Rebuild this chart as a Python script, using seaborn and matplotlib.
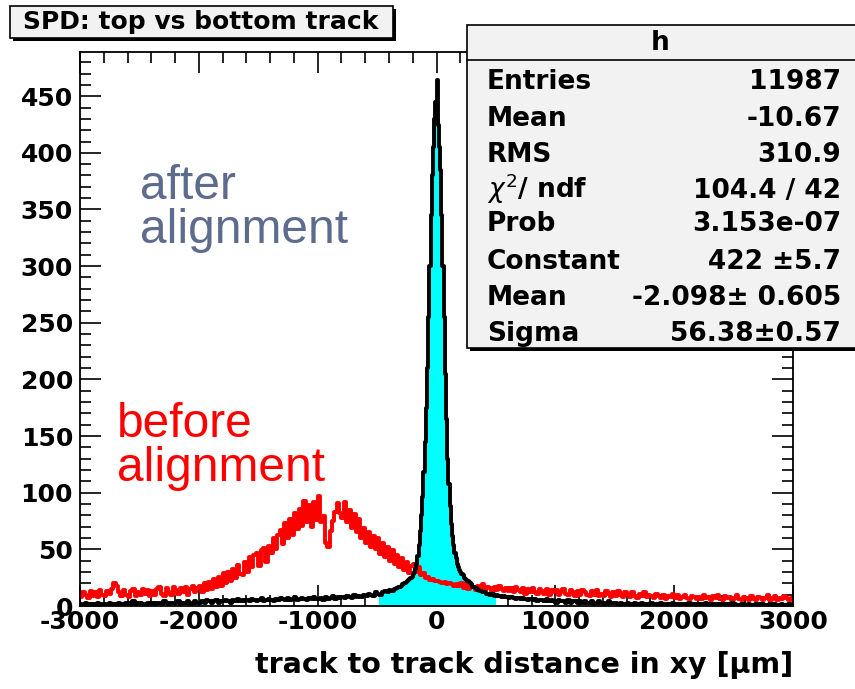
import numpy as np
import pandas as pd
import matplotlib
matplotlib.use("Agg")
import matplotlib.pyplot as plt
import seaborn as sns
from matplotlib.patches import Rectangle
from matplotlib.ticker import MultipleLocator

# ---------------- data ----------------
# "before alignment": 300 bins of 20 um from -3000 to 3000
red_counts = [
    8, 12, 10, 7, 13, 9, 12, 8, 14, 10, 9, 13, 11, 15, 20, 18, 12, 9, 14, 10,
    8, 13, 15, 9, 12, 10, 15, 11, 14, 9, 13, 10, 15, 17, 11, 9, 16, 12, 10, 17,
    14, 11, 16, 12, 17, 10, 15, 18, 12, 16,
    18, 12, 20, 14, 21, 15, 24, 17, 26, 18, 29, 20, 30, 22, 33, 25, 36, 28, 27, 39,
    30, 43, 34, 45, 47, 35, 49, 51, 39, 53,
    47, 60, 50, 63, 67, 55, 73, 60, 77, 63, 82, 68, 86, 71, 93, 74, 89, 70, 92, 76,
    97, 74, 79, 56, 52, 66, 75, 83, 91, 82, 78, 92, 74, 85, 69, 81, 65, 77, 60, 69,
    56, 65, 52, 62, 50, 60, 46, 56, 43, 52, 40, 49, 37, 45, 34, 42, 32, 39, 29, 35,
    37, 30, 34, 27, 29, 25, 26, 23, 24, 22, 22, 21, 20, 21, 19, 20, 19, 18, 19, 18,
    20, 16, 19, 15, 18, 17, 14, 18, 15, 19, 14, 17, 16, 13, 17, 14, 18, 15, 13, 16,
    13, 16, 12, 17, 14, 12, 16, 11, 15, 12, 16, 12, 11, 15, 13, 11, 15, 10, 14, 12,
    14, 10, 12, 15, 11, 10, 14, 12, 9, 13, 10, 14, 12, 10, 9, 13, 10, 14, 9, 11,
    9, 13, 11, 8, 12, 9, 13, 10, 8, 12, 10, 8, 12, 9, 7, 11, 9, 12, 8, 10,
    9, 7, 11, 9, 7, 10, 6, 9, 8, 11, 7, 10, 6, 8, 10, 7, 6, 9, 8, 6,
    8, 6, 10, 7, 8, 5, 9, 7, 10, 6, 5, 9, 7, 8, 5, 7, 10, 6, 5, 8,
    7, 5, 9, 6, 5, 8, 7, 5, 7, 10, 5, 7, 9, 5, 7, 6, 9, 7, 5, 7,
]
# "after alignment": 20 um bins from -3000 to -300
black_left = [
    2, 1, 3, 2, 1, 2, 2, 3, 1, 2, 2, 1, 3, 2, 2, 1, 3, 2, 2, 3,
    3, 2, 4, 2, 3, 3, 2, 1, 3, 2, 3, 2, 3, 3, 2, 4, 3, 2, 3, 3,
    3, 4, 2, 3, 3, 4, 2, 3, 4, 3,
    3, 4, 3, 5, 4, 3, 4, 5, 3, 4, 4, 5, 4, 3, 5, 4, 6, 4, 5, 4,
    5, 4, 6, 5, 4, 5, 7, 4, 5, 6, 5, 4, 6, 5, 7,
    6, 5, 7, 5, 6, 8, 5, 6, 7, 6, 5, 7, 6, 8, 6, 6, 7, 5, 8, 6,
    7, 9, 6, 8, 7,
    8, 7, 9, 8, 7, 10, 8, 9, 8, 10, 9, 11, 10, 9, 12, 11, 10, 12, 13, 12,
    14, 13, 15, 16, 17,
]
# 10 um bins from -300 to 300
black_core = [
    18, 19, 19, 20, 21, 22, 23, 24, 25, 26, 28, 30, 33, 37, 44, 54, 66, 80, 96, 118,
    145, 175, 210, 255, 300, 345, 380, 405, 430, 445, 464, 425, 405, 385, 345, 300,
    255, 205, 165, 130, 108, 88, 72, 62, 54, 47, 42, 37, 34, 32, 30, 28, 27, 25, 24,
    23, 22, 21, 20, 19,
]
# 20 um bins from 300 to 3000
black_right = [
    17, 16, 14, 13, 12, 12, 11, 10, 11, 9, 10, 9, 8, 9, 8, 7, 8, 7, 6, 7,
    6, 7, 6, 5, 6,
    5, 6, 4, 5, 5, 4, 6, 4, 5, 4, 3, 5, 4, 4, 3, 5, 3, 4, 4, 3,
    4, 3, 4, 3, 3, 4, 2, 3, 4, 3, 3, 2, 4, 3, 3,
    3, 2, 3, 2, 2, 3, 1, 2, 3, 2, 2, 3, 2, 1, 2, 3, 2, 2, 1, 3,
    2, 2, 1, 2, 3, 2, 1, 2, 2, 1, 2, 3, 1, 2, 2, 1, 2, 1, 3, 2,
    1, 2, 2, 1, 2, 1, 2, 2, 1, 3, 2, 1, 1, 2, 2, 1, 2, 1, 1, 2,
    2, 1, 2, 1, 1, 2, 1, 2, 1, 1, 2, 1, 1, 2, 1,
]

x_ticks = [-3000, -2000, -1000, 0, 1000, 2000, 3000]
y_ticks = [0, 50, 100, 150, 200, 250, 300, 350, 400, 450]

stats_names = ["Entries", "Mean", "RMS", r"$\chi^{2}$/ ndf", "Prob",
               "Constant", "Mean", "Sigma"]
stats_values = ["11987", "-10.67", "310.9", "104.4 / 42", "3.153e-07",
                "422 ±5.7", "-2.098± 0.605", "56.38±0.57"]

# ---------------- binning ----------------
red_edges = np.linspace(-3000, 3000, 301)
red_df = pd.DataFrame({"x": 0.5 * (red_edges[:-1] + red_edges[1:]),
                       "w": np.array(red_counts, dtype=float)})

black_edges = np.concatenate([np.arange(-3000, -299, 20),
                              np.arange(-290, 301, 10),
                              np.arange(320, 3001, 20)]).astype(float)
black_df = pd.DataFrame({"x": 0.5 * (black_edges[:-1] + black_edges[1:]),
                         "w": np.array(black_left + black_core + black_right,
                                       dtype=float)})

sel = ((black_df["x"] > -480) & (black_df["x"] < 500)).to_numpy()
idx = np.where(sel)[0]
cyan_edges = black_edges[idx[0]: idx[-1] + 2]
cyan_df = black_df[sel]

# ---------------- style ----------------
sns.set_style("ticks")
plt.rcParams["font.family"] = ["DejaVu Sans"]
plt.rcParams["axes.unicode_minus"] = False
plt.rcParams["mathtext.fontset"] = "dejavusans"
plt.rcParams["text.color"] = "black"
plt.rcParams["xtick.color"] = "black"
plt.rcParams["ytick.color"] = "black"
plt.rcParams["axes.labelcolor"] = "black"

W, H = 855, 689
fig = plt.figure(figsize=(W / 100, H / 100), dpi=100)
fig.patch.set_facecolor("white")


def fx(x):
    return x / W


def fy(y):
    return 1 - y / H


L, R, T, B = 80, 793, 52, 606
ax = fig.add_axes([fx(L), fy(B), fx(R) - fx(L), fy(T) - fy(B)])
ax.set_facecolor("white")

sns.histplot(data=red_df, x="x", weights="w", bins=list(red_edges),
             element="step", fill=False, color="#ff0000", linewidth=2.8, ax=ax)
sns.histplot(data=cyan_df, x="x", weights="w", bins=list(cyan_edges),
             element="step", fill=True, color="#00ffff", alpha=1.0,
             linewidth=0, ax=ax)
sns.histplot(data=black_df, x="x", weights="w", bins=list(black_edges),
             element="step", fill=False, color="black", linewidth=2.8, ax=ax)

ax.set_xlim(-3000, 3000)
ax.set_ylim(0, 489)
ax.set_xlabel("")
ax.set_ylabel("")
ax.set_xticks(x_ticks)
ax.set_yticks(y_ticks)
ax.set_xticklabels([str(v) for v in x_ticks], fontsize=18, fontweight="bold",
                   color="black")
ax.set_yticklabels([str(v) for v in y_ticks], fontsize=18, fontweight="bold",
                   color="black")
ax.xaxis.set_minor_locator(MultipleLocator(200))
ax.yaxis.set_minor_locator(MultipleLocator(10))
ax.tick_params(which="both", direction="in", top=True, right=True, width=1.2,
               color="black", labelcolor="black")
ax.tick_params(which="major", length=15)
ax.tick_params(which="minor", length=8)
ax.tick_params(axis="x", which="major", pad=3)
ax.tick_params(axis="y", which="major", pad=5)
for s in ax.spines.values():
    s.set_linewidth(1.3)
    s.set_color("black")

# x axis title
fig.text(fx(793), fy(673), "track to track distance in xy [μm]", ha="right",
         va="baseline", fontsize=20.5, fontweight="bold", color="black")

# annotations (regular sans, like Helvetica)
ann_font = ["Liberation Sans", "DejaVu Sans"]
fig.text(fx(140), fy(199), "after", color="#5d6b8c", fontsize=34.5,
         va="baseline", family=ann_font)
fig.text(fx(140), fy(243), "alignment", color="#5d6b8c", fontsize=34.5,
         va="baseline", family=ann_font)
fig.text(fx(117), fy(437), "before", color="#ff0000", fontsize=34.5,
         va="baseline", family=ann_font)
fig.text(fx(117), fy(481), "alignment", color="#ff0000", fontsize=34.5,
         va="baseline", family=ann_font)


def box(x0, y0, x1, y1, shadow=3, face="#f2f2f2"):
    fig.patches.append(Rectangle((fx(x0 + shadow), fy(y1 + shadow)),
                                 fx(x1) - fx(x0), fy(y0) - fy(y1),
                                 transform=fig.transFigure, facecolor="black",
                                 edgecolor="none", zorder=5))
    fig.patches.append(Rectangle((fx(x0), fy(y1)), fx(x1) - fx(x0),
                                 fy(y0) - fy(y1), transform=fig.transFigure,
                                 facecolor=face, edgecolor="black",
                                 linewidth=1.2, zorder=6))


# title box
box(10, 6, 393, 38)
fig.text(fx(201), fy(22), "SPD: top vs bottom track", ha="center", va="center",
         fontsize=18, fontweight="bold", color="black", zorder=7)

# statistics box
box(467, 25, 870, 348)
fig.lines.append(plt.Line2D([fx(467), fx(870)], [fy(60), fy(60)],
                            transform=fig.transFigure, color="black",
                            linewidth=1.2, zorder=7))
fig.text(fx(660), fy(43), "h", ha="center", va="center", fontsize=19,
         fontweight="bold", color="black", zorder=7)
row_y = [89, 126, 162, 198, 231, 269, 305, 341]
for name, val, yy in zip(stats_names, stats_values, row_y):
    fig.text(fx(487), fy(yy), name, ha="left", va="baseline", fontsize=19,
             fontweight="bold", color="black", zorder=7)
    fig.text(fx(841), fy(yy), val, ha="right", va="baseline", fontsize=19,
             fontweight="bold", color="black", zorder=7)

fig.savefig("out.png", dpi=100, facecolor="white")
